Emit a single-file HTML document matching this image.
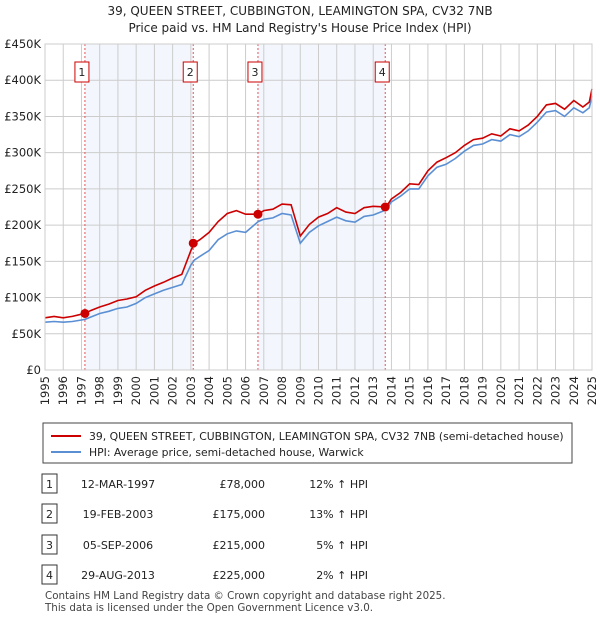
<!DOCTYPE html>
<html><head><meta charset="utf-8"><style>
body{margin:0;background:#fff;font-family:"Liberation Sans","DejaVu Sans",sans-serif;}
svg text{font-family:"DejaVu Sans","Liberation Sans",sans-serif;}
</style></head><body>
<svg id="c" width="600" height="620" xmlns="http://www.w3.org/2000/svg">
<text x="300" y="15" text-anchor="middle" font-size="12" fill="#222">39, QUEEN STREET, CUBBINGTON, LEAMINGTON SPA, CV32 7NB</text>
<text x="300" y="32" text-anchor="middle" font-size="12" fill="#222">Price paid vs. HM Land Registry's House Price Index (HPI)</text>
<g id="plot"></g>
<g>
<rect x="43" y="423" width="529" height="40" fill="#fff" stroke="#444"/>
<line x1="51" y1="436" x2="81" y2="436" stroke="#cc0000" stroke-width="2"/>
<text x="89" y="440" font-size="10.8" fill="#222">39, QUEEN STREET, CUBBINGTON, LEAMINGTON SPA, CV32 7NB (semi-detached house)</text>
<line x1="51" y1="452" x2="81" y2="452" stroke="#5b8fd4" stroke-width="2"/>
<text x="89" y="456" font-size="10.8" fill="#222">HPI: Average price, semi-detached house, Warwick</text>
</g>
<g id="table" font-size="11" fill="#222"></g>
<text x="45" y="599" font-size="10.3" fill="#444">Contains HM Land Registry data © Crown copyright and database right 2025.</text>
<text x="45" y="611" font-size="10.3" fill="#444">This data is licensed under the Open Government Licence v3.0.</text>
</svg>
<script>
const hpiYears=[1995,1995.5,1996,1996.5,1997,1997.2,1997.5,1998,1998.5,1999,1999.5,2000,2000.5,2001,2001.5,2002,2002.5,2003,2003.2,2003.5,2004,2004.5,2005,2005.5,2006,2006.7,2007,2007.5,2008,2008.5,2009,2009.5,2010,2010.5,2011,2011.5,2012,2012.5,2013,2013.7,2014,2014.5,2015,2015.5,2016,2016.5,2017,2017.5,2018,2018.5,2019,2019.5,2020,2020.5,2021,2021.5,2022,2022.5,2023,2023.5,2024,2024.5,2024.85,2025];
const hpiValues=[66,67,66,67,69,70,73,78,81,85,87,92,100,105,110,114,118,145,152,157,165,180,188,192,190,205,208,210,216,214,175,190,199,205,211,206,204,212,214,221,232,240,250,250,268,280,284,292,302,310,312,318,316,325,322,330,342,356,358,350,362,355,362,378];
const priceValues=[72,74,72,74,77,78,82,87,91,96,98,101,110,116,121,127,132,165,175,180,190,205,216,220,215,215,220,222,229,228,185,201,211,216,224,218,216,224,226,225,236,245,257,256,275,287,293,300,310,318,320,326,323,333,330,338,350,366,368,360,372,363,370,388];
const saleYears=[1997.19,2003.13,2006.68,2013.66];
const salePrices=[78,175,215,225];
const saleLabels=["1","2","3","4"];
const saleDates=["12-MAR-1997","19-FEB-2003","05-SEP-2006","29-AUG-2013"];
const salePriceText=["£78,000","£175,000","£215,000","£225,000"];
const saleHpiText=["12% ↑ HPI","13% ↑ HPI","5% ↑ HPI","2% ↑ HPI"];
const yTicks=[0,50,100,150,200,250,300,350,400,450];
const yTickLabels=["£0","£50K","£100K","£150K","£200K","£250K","£300K","£350K","£400K","£450K"];
const xTicks=[1995,1996,1997,1998,1999,2000,2001,2002,2003,2004,2005,2006,2007,2008,2009,2010,2011,2012,2013,2014,2015,2016,2017,2018,2019,2020,2021,2022,2023,2024,2025];

const NS="http://www.w3.org/2000/svg";
const X0=45,X1=592,Y0=370,Y1=44;
const xs=y=>X0+(y-1995)/30*(X1-X0);
const ys=v=>Y0-v/450*(Y0-Y1);
const plot=document.getElementById('plot');
function mk(t,a,p){const e=document.createElementNS(NS,t);for(const k in a)e.setAttribute(k,a[k]);(p||plot).appendChild(e);return e;}
for(let i=0;i<4;i+=2){
 const r=mk('rect',{x:xs(saleYears[i]),y:Y1,width:xs(saleYears[i+1])-xs(saleYears[i]),height:Y0-Y1,fill:'#eef3fc',opacity:0.7});
 
 
}
yTicks.forEach((v,i)=>{
 const l=mk('line',{x1:X0,x2:X1,y1:ys(v),y2:ys(v),stroke:'#ccc','stroke-width':1});
 
 
 const t=mk('text',{x:X0-4,y:ys(v)+4,'text-anchor':'end','font-size':11.5,fill:'#222'});
 t.textContent=yTickLabels[i];
 
 
});
xTicks.forEach(y=>{
 const l=mk('line',{x1:xs(y),x2:xs(y),y1:Y1,y2:Y0,stroke:'#ccc','stroke-width':1});
 
 
 const t=mk('text',{x:0,y:0,'text-anchor':'end','font-size':11.5,fill:'#222',transform:`translate(${xs(y)+4},${Y0+6}) rotate(-90)`});
 t.textContent=y;
 
 
});
saleYears.forEach((y,i)=>{
 const l=mk('line',{x1:xs(y),x2:xs(y),y1:Y1,y2:Y0,stroke:'#e05555','stroke-width':1,'stroke-dasharray':'2,2'});
 
 
 const b=mk('rect',{x:xs(y)-10,y:62,width:14,height:20,fill:'#fff',stroke:'#cc0000'});
 
 
 const t=mk('text',{x:xs(y)-3,y:76,'text-anchor':'middle','font-size':11,fill:'#222'});
 t.textContent=saleLabels[i];
 
 
});
const pl=(vals)=>hpiYears.map((y,i)=>xs(y).toFixed(1)+','+ys(vals[i]).toFixed(1)).join(' ');
const hl=mk('polyline',{points:pl(hpiValues),fill:'none',stroke:'#5b8fd4','stroke-width':1.6});


const rl=mk('polyline',{points:pl(priceValues),fill:'none',stroke:'#cc0000','stroke-width':1.6});


saleYears.forEach((y,i)=>{
 const c=mk('circle',{cx:xs(y),cy:ys(salePrices[i]),r:4.5,fill:'#cc0000'});
 
 
});
const ax=mk('rect',{x:X0,y:Y1,width:X1-X0,height:Y0-Y1,fill:'none',stroke:'#ccc'});


const tb=document.getElementById('table');
const rowY=[484,514,545,575];
saleLabels.forEach((s,i)=>{
 const y=rowY[i];
 const b=mk('rect',{x:42,y:y-10,width:15,height:19,fill:'#fff',stroke:'#333'},tb);
 
 
 const cells=[[49.5,s,'middle'],[118,saleDates[i],'middle'],[265,salePriceText[i],'end'],[368,saleHpiText[i],'end']];
 cells.forEach(c=>{
  const t=mk('text',{x:c[0],y:y+4,'text-anchor':c[2],'font-size':11,fill:'#222'},tb);
  t.textContent=c[1];
  
  
 });
});
</script>
</body></html>
